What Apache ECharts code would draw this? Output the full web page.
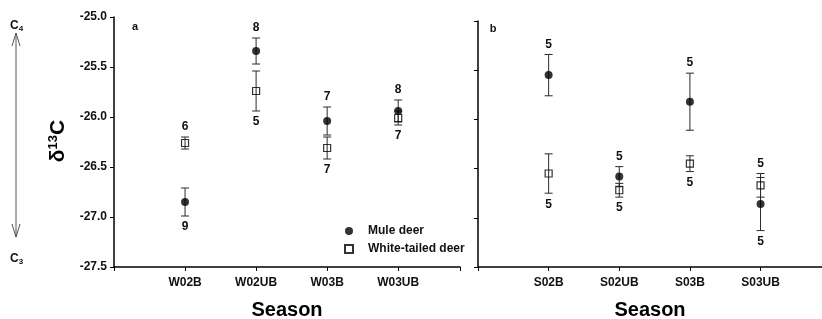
<!DOCTYPE html>
<html>
<head>
<meta charset="utf-8">
<script src="https://cdn.jsdelivr.net/npm/echarts@6/dist/echarts.min.js"></script>
<style>
html, body { margin: 0; padding: 0; background: #fff; }
#main { width: 822px; height: 319px; }
</style>
</head>
<body>
<div id="main"></div>
<script>
// panel a: winter seasons
var catsA = ['W02B', 'W02UB', 'W03B', 'W03UB'];
var muleA = [-26.85, -25.34, -26.04, -25.94];
var muleSeA = [0.14, 0.13, 0.14, 0.11];
var muleNA = [9, 8, 7, 8];
var wtdA = [-26.26, -25.74, -26.31, -26.01];
var wtdSeA = [0.06, 0.20, 0.11, 0.07];
var wtdNA = [6, 5, 7, 7];

// panel b: summer seasons
var catsB = ['S02B', 'S02UB', 'S03B', 'S03UB'];
var muleB = [-25.55, -26.58, -25.82, -26.86];
var muleSeB = [0.21, 0.10, 0.29, 0.27];
var muleNB = [5, 5, 5, 5];
var wtdB = [-26.55, -26.72, -26.45, -26.67];
var wtdSeB = [0.20, 0.07, 0.08, 0.12];
var wtdNB = [5, 5, 5, 5];

var yTicks = [-27.5, -27.0, -26.5, -26.0, -25.5, -25.0];

var FONT = 'Liberation Sans, Arial, sans-serif';

function points(vals) {
    return vals.map(function (v, i) { return [i + 1, v]; });
}
function bars(vals, se, n, other) {
    return vals.map(function (v, i) { return [i + 1, v, se[i], n[i], other[i]]; });
}

// error bar with the sample size above or below it
function renderBar(params, api) {
    var x = api.value(0), m = api.value(1), se = api.value(2), n = api.value(3), o = api.value(4);
    var top = api.coord([x, m + se]);
    var bot = api.coord([x, m - se]);
    var w = 4;
    var st = { stroke: '#2a2a2a', lineWidth: 1 };
    var up = m > o;
    return {
        type: 'group',
        children: [
            { type: 'line', shape: { x1: top[0], y1: top[1], x2: bot[0], y2: bot[1] }, style: st },
            { type: 'line', shape: { x1: top[0] - w, y1: top[1], x2: top[0] + w, y2: top[1] }, style: st },
            { type: 'line', shape: { x1: bot[0] - w, y1: bot[1], x2: bot[0] + w, y2: bot[1] }, style: st },
            {
                type: 'text',
                style: {
                    x: top[0], y: up ? top[1] - 10 : bot[1] + 11,
                    text: String(n), align: 'center', verticalAlign: 'middle',
                    font: 'bold 12px ' + FONT, fill: '#111'
                }
            }
        ]
    };
}

function xAxisFor(cats, idx) {
    return {
        type: 'value', gridIndex: idx, min: 0, max: 4.87, interval: 1,
        name: 'Season', nameLocation: 'middle', nameGap: 33,
        nameTextStyle: { fontFamily: FONT, fontWeight: 'bold', fontSize: 20, color: '#000' },
        axisLine: { lineStyle: { color: '#000', width: 1.5 } },
        axisTick: { show: true, length: 4, lineStyle: { color: '#000' } },
        splitLine: { show: false },
        axisLabel: {
            margin: 10, fontFamily: FONT, fontWeight: 'bold', fontSize: 12, color: '#111',
            formatter: function (v) { return Math.abs(v - Math.round(v)) < 1e-6 ? (cats[Math.round(v) - 1] || '') : ''; }
        }
    };
}

function yAxisFor(idx, show) {
    return {
        type: 'value', gridIndex: idx, min: yTicks[0], max: yTicks[yTicks.length - 1], interval: 0.5,
        axisLine: { show: true, lineStyle: { color: '#000', width: 1.5 } },
        axisTick: { show: true, length: 4, lineStyle: { color: '#000' } },
        splitLine: { show: false },
        axisLabel: {
            show: show, margin: 7, fontFamily: FONT, fontWeight: 'bold', fontSize: 12, color: '#111',
            formatter: function (v) { return v.toFixed(1); }
        }
    };
}

function panelSeries(idx, mule, muleSe, muleN, wtd, wtdSe, wtdN) {
    return [
        {
            type: 'custom', xAxisIndex: idx, yAxisIndex: idx, z: 1,
            renderItem: renderBar, data: bars(mule, muleSe, muleN, wtd)
        },
        {
            type: 'custom', xAxisIndex: idx, yAxisIndex: idx, z: 1,
            renderItem: renderBar, data: bars(wtd, wtdSe, wtdN, mule)
        },
        {
            name: 'Mule deer', type: 'scatter', xAxisIndex: idx, yAxisIndex: idx, z: 3,
            symbol: 'circle', symbolSize: 8, itemStyle: { color: '#000' },
            data: points(mule)
        },
        {
            name: 'White-tailed deer', type: 'scatter', xAxisIndex: idx, yAxisIndex: idx, z: 3,
            symbol: 'rect', symbolSize: 7,
            itemStyle: { color: 'rgba(255,255,255,0)', borderColor: '#000', borderWidth: 1.2 },
            data: points(wtd)
        }
    ];
}

var option = {
    animation: false,
    backgroundColor: '#fff',
    grid: [
        { left: 114, top: 17, width: 346, height: 250, outerBoundsMode: 'none', containLabel: false },
        { left: 478, top: 21, width: 344, height: 246, outerBoundsMode: 'none', containLabel: false }
    ],
    xAxis: [xAxisFor(catsA, 0), xAxisFor(catsB, 1)],
    yAxis: [yAxisFor(0, true), yAxisFor(1, false)],
    legend: {
        orient: 'vertical', left: 339, top: 220, itemWidth: 8, itemHeight: 8, itemGap: 6,
        data: ['Mule deer', 'White-tailed deer'],
        textStyle: { fontFamily: FONT, fontWeight: 'bold', fontSize: 12, color: '#111', padding: [0, 0, 0, 10] }
    },
    graphic: [
        {
            type: 'text', x: 58, y: 141, rotation: Math.PI / 2,
            style: {
                text: '{a|δ}{s|13}{a|C}', align: 'center', verticalAlign: 'middle',
                rich: {
                    a: { fontFamily: FONT, fontWeight: 'bold', fontSize: 21, fill: '#000' },
                    s: { fontFamily: FONT, fontWeight: 'bold', fontSize: 13, fill: '#000', padding: [0, 0, 10, 0] }
                }
            }
        },
        {
            type: 'text', x: 10, y: 26,
            style: {
                text: '{c|C}{n|4}', verticalAlign: 'middle',
                rich: {
                    c: { fontFamily: FONT, fontWeight: 'bold', fontSize: 12, fill: '#111' },
                    n: { fontFamily: FONT, fontWeight: 'bold', fontSize: 8, fill: '#111', padding: [6, 0, 0, 0] }
                }
            }
        },
        {
            type: 'text', x: 10, y: 259,
            style: {
                text: '{c|C}{n|3}', verticalAlign: 'middle',
                rich: {
                    c: { fontFamily: FONT, fontWeight: 'bold', fontSize: 12, fill: '#111' },
                    n: { fontFamily: FONT, fontWeight: 'bold', fontSize: 8, fill: '#111', padding: [6, 0, 0, 0] }
                }
            }
        },
        { type: 'line', shape: { x1: 16, y1: 33, x2: 16, y2: 237 }, style: { stroke: '#555', lineWidth: 1 } },
        { type: 'polyline', shape: { points: [[12, 46], [16, 33], [20, 46]] }, style: { stroke: '#555', lineWidth: 1, fill: null } },
        { type: 'polyline', shape: { points: [[12, 224], [16, 237], [20, 224]] }, style: { stroke: '#555', lineWidth: 1, fill: null } },
        { type: 'text', x: 135, y: 27, style: { text: 'a', align: 'center', verticalAlign: 'middle', font: 'bold 11px ' + FONT, fill: '#111' } },
        { type: 'text', x: 493, y: 29, style: { text: 'b', align: 'center', verticalAlign: 'middle', font: 'bold 11px ' + FONT, fill: '#111' } }
    ],
    series: panelSeries(0, muleA, muleSeA, muleNA, wtdA, wtdSeA, wtdNA)
        .concat(panelSeries(1, muleB, muleSeB, muleNB, wtdB, wtdSeB, wtdNB))
};

var myChart = echarts.init(document.getElementById('main'));
myChart.setOption(option);
</script>
</body>
</html>
